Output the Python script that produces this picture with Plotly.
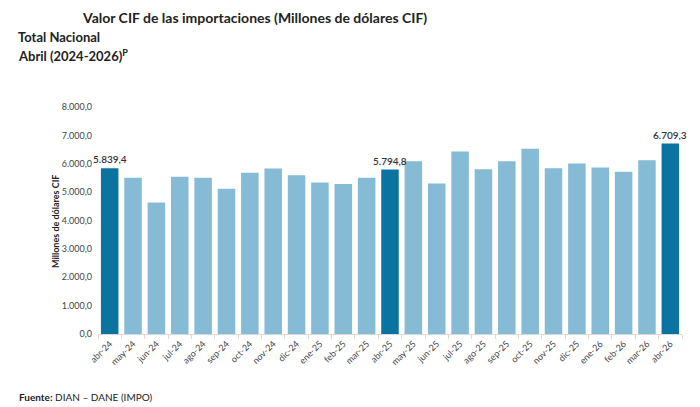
import plotly.graph_objects as go

categories = ["abr-24", "may-24", "jun-24", "jul-24", "ago-24", "sep-24", "oct-24",
              "nov-24", "dic-24", "ene-25", "feb-25", "mar-25", "abr-25", "may-25",
              "jun-25", "jul-25", "ago-25", "sep-25", "oct-25", "nov-25", "dic-25",
              "ene-26", "feb-26", "mar-26", "abr-26"]
values = [5839.4, 5504, 4637, 5539, 5504, 5116, 5680, 5834, 5599, 5340, 5282, 5504,
          5794.8, 6092, 5305, 6432, 5810, 6092, 6526, 5845, 6009, 5869, 5715, 6127,
          6709.3]
highlight = ["abr-24", "abr-25", "abr-26"]
y_ticks = [0, 1000, 2000, 3000, 4000, 5000, 6000, 7000, 8000]


def fmt(v):
    s = f"{v:,.1f}"
    return s.replace(",", "X").replace(".", ",").replace("X", ".")


DARK = "#0b73a0"
LIGHT = "#86bbd5"
colors = [DARK if c in highlight else LIGHT for c in categories]

W, H = 700, 407
L, R, T, B = 98, 18, 107, 73
pw, ph = W - L - R, H - T - B


def px(x):
    return (x - L) / pw


def py(y):
    return (H - B - y) / ph


fig = go.Figure(go.Bar(
    x=categories, y=values, marker_color=colors, marker_line_width=0,
    width=0.75, hoverinfo="x+y",
))

font = "Lato"
annotations = [
    dict(text="<b>Valor CIF de las importaciones (Millones de dólares CIF)</b>",
         x=px(80), y=py(17), xref="paper", yref="paper", xanchor="left",
         yanchor="middle", showarrow=False, font=dict(size=14, color="#222222")),
    dict(text="<b>Total Nacional</b>",
         x=px(16), y=py(37), xref="paper", yref="paper", xanchor="left",
         yanchor="middle", showarrow=False, font=dict(size=13, color="#222222")),
    dict(text="<b>Abril (2024-2026)<sup>P</sup></b>",
         x=px(16), y=py(55), xref="paper", yref="paper", xanchor="left",
         yanchor="middle", showarrow=False, font=dict(size=13, color="#222222")),
    dict(text="<b>Millones de dólares CIF</b>", textangle=-90,
         x=px(55), y=py(222), xref="paper", yref="paper", xanchor="center",
         yanchor="middle", showarrow=False, font=dict(size=9, color="#222222")),
    dict(text="<b>Fuente:</b> DIAN – DANE (IMPO)",
         x=px(17), y=py(397), xref="paper", yref="paper", xanchor="left",
         yanchor="middle", showarrow=False, font=dict(size=10, color="#222222")),
]
for c, v in zip(categories, values):
    if c in highlight:
        annotations.append(dict(
            text=fmt(v), x=c, y=v, xref="x", yref="y", xanchor="center",
            yanchor="bottom", yshift=1, showarrow=False,
            font=dict(size=10, color="#333333", family=font, weight=600),
        ))

fig.update_layout(
    width=W, height=H, margin=dict(l=L, r=R, t=T, b=B, autoexpand=False),
    paper_bgcolor="white", plot_bgcolor="white",
    showlegend=False, bargap=0.25,
    font=dict(family=font, color="#333333"),
    xaxis=dict(
        tickangle=-45, tickfont=dict(size=9, color="#444444"),
        showline=True, linecolor="#d9d9d9", linewidth=1,
        ticks="outside", tickson="boundaries", ticklen=4, tickcolor="#e6d6cc",
        showgrid=False, automargin=False, range=[-0.5, len(categories) - 0.5],
    ),
    yaxis=dict(
        range=[0, 8000], tickvals=y_ticks, ticktext=[fmt(v) for v in y_ticks],
        tickfont=dict(size=9, color="#444444"), showgrid=False, zeroline=False,
        showline=False, ticks="", automargin=False, ticklabelstandoff=5,
    ),
    annotations=annotations,
)

fig.write_html("out.html")
